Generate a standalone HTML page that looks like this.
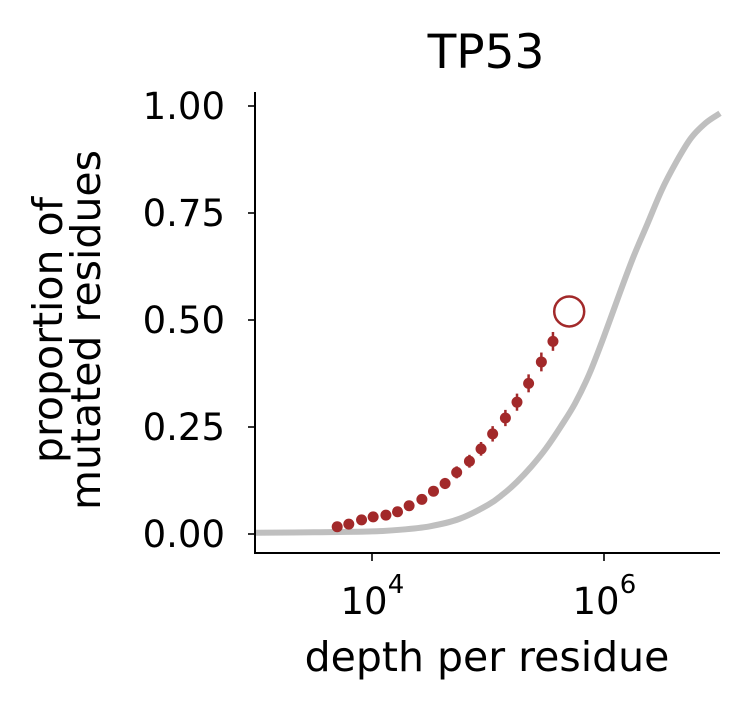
<!DOCTYPE html>
<html><head><meta charset="utf-8"><style>
body{margin:0;background:#fff;}
svg{display:block;font-family:"DejaVu Sans","Liberation Sans",sans-serif;}
</style></head><body>
<svg id="chart" width="749" height="711" viewBox="0 0 749 711" xmlns="http://www.w3.org/2000/svg">
<text x="486" y="68" font-size="47" text-anchor="middle" fill="#000">TP53</text>
<g id="curve"></g>
<g id="points"></g>
<g id="axes"></g>
<text x="487" y="671" font-size="41" text-anchor="middle">depth per residue</text>
<g transform="translate(0,330) rotate(-90)">
<text x="0" y="62" font-size="41" text-anchor="middle">proportion of</text>
<text x="0" y="100" font-size="41" text-anchor="middle">mutated residues</text>
</g>
</svg>
<script>
const curveLogDepth=[3.0,3.5,4.0,4.25,4.5,4.75,5.0,5.125,5.25,5.375,5.5,5.625,5.75,5.875,6.0,6.125,6.25,6.375,6.5,6.625,6.75,6.875,7.0];
const curveValues=[0.003,0.004,0.006,0.010,0.018,0.035,0.068,0.092,0.122,0.158,0.200,0.250,0.305,0.375,0.462,0.555,0.645,0.725,0.805,0.870,0.925,0.960,0.983];
const pointLogDepth=[3.70,3.80,3.91,4.01,4.12,4.22,4.32,4.43,4.53,4.63,4.73,4.84,4.94,5.04,5.15,5.25,5.35,5.46,5.56];
const pointValues=[0.017,0.023,0.033,0.040,0.044,0.052,0.066,0.081,0.100,0.118,0.144,0.170,0.199,0.234,0.271,0.308,0.352,0.402,0.450];
const pointErrors=[0.004,0.005,0.006,0.007,0.008,0.009,0.010,0.011,0.012,0.013,0.014,0.015,0.016,0.018,0.019,0.020,0.021,0.022,0.022];
const highlightLogDepth=5.70, highlightValue=0.520;
const yTicks=[0,0.25,0.5,0.75,1.0];
const yTickLabels=["0.00","0.25","0.50","0.75","1.00"];
const xTicks=[4,6];
const xTickLabels=["4","6"];

const NS="http://www.w3.org/2000/svg";
const X0=255,X1=720,Y0=553,Y1=92;
const xScale=l=>372+(l-4)*116;
const yScale=v=>534-v*428;
function mk(t,a,p){const e=document.createElementNS(NS,t);for(const k in a)e.setAttribute(k,a[k]);p.appendChild(e);return e;}

const cg=document.getElementById('curve');
const pts=curveLogDepth.map((l,i)=>[xScale(l),yScale(curveValues[i])]);
let d='M'+pts[0][0].toFixed(1)+','+pts[0][1].toFixed(1);
for(let i=0;i<pts.length-1;i++){
  const p0=pts[Math.max(0,i-1)],p1=pts[i],p2=pts[i+1],p3=pts[Math.min(pts.length-1,i+2)];
  const c1=[p1[0]+(p2[0]-p0[0])/6,p1[1]+(p2[1]-p0[1])/6],c2=[p2[0]-(p3[0]-p1[0])/6,p2[1]-(p3[1]-p1[1])/6];
  d+=' C'+c1.map(v=>v.toFixed(1)).join(',')+' '+c2.map(v=>v.toFixed(1)).join(',')+' '+p2.map(v=>v.toFixed(1)).join(',');
}
const cp=mk('path',{d:d,fill:'none',stroke:'#bfbfbf','stroke-width':6,'stroke-linejoin':'round'},cg);



const pg=document.getElementById('points');
pointLogDepth.forEach((l,i)=>{
  const x=xScale(l),y=yScale(pointValues[i]),e=pointErrors[i]*428;
  const ln=mk('line',{x1:x,x2:x,y1:y-e,y2:y+e,stroke:'#a2292a','stroke-width':2.5},pg);
  
  
  const c=mk('circle',{cx:x,cy:y,r:5.5,fill:'#a2292a'},pg);
  
  
});
const hc=mk('circle',{cx:xScale(highlightLogDepth),cy:yScale(highlightValue),r:15,fill:'none',stroke:'#a2292a','stroke-width':2.5},pg);



const ag=document.getElementById('axes');
mk('line',{x1:X0,x2:X0,y1:Y1,y2:Y0+1,stroke:'#000','stroke-width':2},ag);
mk('line',{x1:X0-1,x2:X1,y1:Y0,y2:Y0,stroke:'#000','stroke-width':2},ag);
yTicks.forEach((v,i)=>{
  const y=yScale(v);
  mk('line',{x1:X0-7,x2:X0,y1:y,y2:y,stroke:'#000','stroke-width':1.6},ag);
  const t=mk('text',{x:X0-30,y:y+13,'font-size':37,'text-anchor':'end'},ag);
  t.textContent=yTickLabels[i];
  
  
});
xTicks.forEach((l,i)=>{
  const x=xScale(l);
  mk('line',{x1:x,x2:x,y1:Y0,y2:Y0+8,stroke:'#000','stroke-width':1.6},ag);
  const t=mk('text',{x:x-8,y:614,'font-size':37,'text-anchor':'middle'},ag);
  t.textContent='10';
  
  
  const s=mk('text',{x:x+24,y:593,'font-size':26,'text-anchor':'middle'},ag);
  s.textContent=xTickLabels[i];
});
</script>
</body></html>
